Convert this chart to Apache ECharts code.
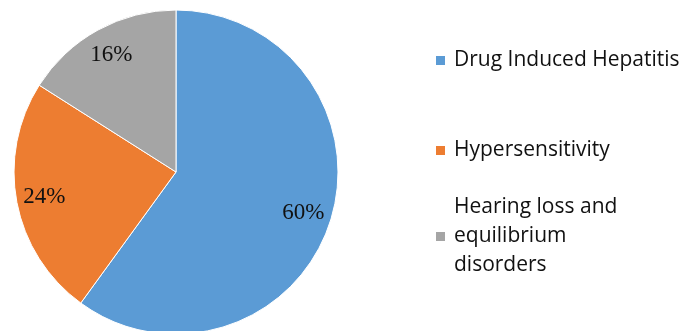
<!DOCTYPE html>
<html>
<head>
<meta charset="utf-8">
<script src="https://cdn.jsdelivr.net/npm/echarts@6/dist/echarts.min.js"></script>
<style>
  html, body { margin: 0; padding: 0; background: #fff; }
  #main { width: 683px; height: 331px; }
</style>
</head>
<body>
<div id="main"></div>
<script>
// 数据
var categories = ['Drug Induced Hepatitis', 'Hypersensitivity', 'Hearing loss and equilibrium disorders']
var values = [60, 24, 16]
var colors = ['#5B9BD5', '#ED7D31', '#A5A5A5']
// 图例换行
var legendText = {
  'Drug Induced Hepatitis': 'Drug Induced Hepatitis',
  'Hypersensitivity': 'Hypersensitivity',
  'Hearing loss and equilibrium disorders': 'Hearing loss and\nequilibrium\ndisorders'
}
var legendTops = [46, 136, 193]

var chart = echarts.init(document.getElementById('main'))

var pieData = categories.map(function(name, i) {
  return { name: name, value: values[i], itemStyle: { color: colors[i] } }
})
// 标签用的透明圆环
var ringData = categories.map(function(name, i) {
  return { name: name, value: values[i], itemStyle: { color: 'rgba(0,0,0,0)' } }
})

chart.setOption({
  animation: false,
  legend: categories.map(function(name, i) {
    return {
      data: [name],
      orient: 'vertical',
      left: 434,
      top: legendTops[i],
      padding: 0,
      icon: 'rect',
      itemWidth: 11,
      itemHeight: 11,
      selectedMode: false,
      formatter: function(n) { return legendText[n] },
      textStyle: {
        fontFamily: 'Open Sans',
        fontSize: 21,
        lineHeight: 29,
        color: '#111',
        padding: [0, 0, 0, 3]
      }
    }
  }),
  series: [
    {
      type: 'pie',
      center: [176, 172],
      radius: [0, 162],
      startAngle: 90,
      clockwise: true,
      label: { show: false },
      labelLine: { show: false },
      itemStyle: { borderColor: '#fff', borderWidth: 1 },
      emphasis: { disabled: true },
      data: pieData
    },
    {
      type: 'pie',
      center: [176, 172],
      radius: [100, 162],
      startAngle: 90,
      clockwise: true,
      silent: true,
      legendHoverLink: false,
      label: {
        show: true,
        position: 'inside',
        formatter: '{c}%',
        fontFamily: 'Liberation Serif',
        fontSize: 23,
        color: '#111'
      },
      labelLine: { show: false },
      data: ringData
    }
  ]
})
</script>
</body>
</html>
